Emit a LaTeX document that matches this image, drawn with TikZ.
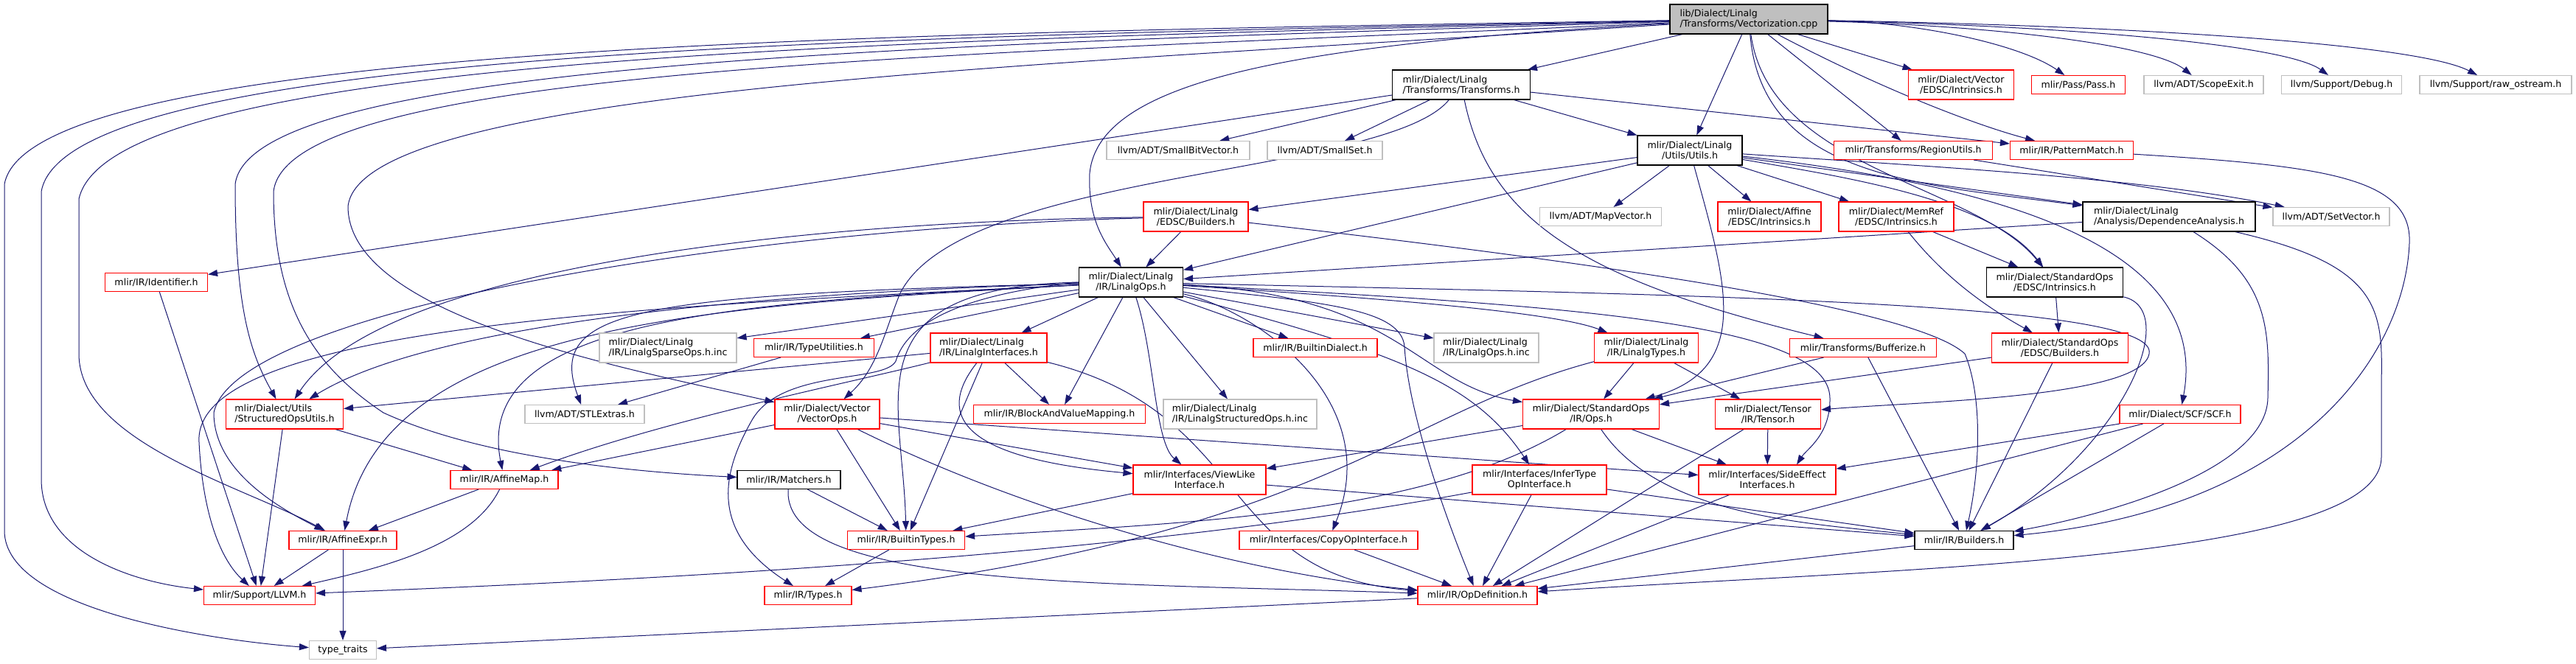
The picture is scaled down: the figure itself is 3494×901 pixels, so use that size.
\documentclass[tikz,border=0pt]{standalone}
\usepackage{fontspec}
\setmainfont{DejaVu Sans}
\usetikzlibrary{arrows.meta,backgrounds}

\definecolor{midnight}{HTML}{191970}
\definecolor{grey75}{HTML}{BFBFBF}
\definecolor{docred}{HTML}{FF0000}

\begin{document}
\begin{tikzpicture}[x=1pt, y=-1pt,
    hfile/.style={draw, rectangle, fill=white, line width=1.1pt, inner sep=2pt, align=center,
      minimum height=25pt, font=\fontsize{12.6}{14}\selectfont},
    hred/.style={hfile, draw=docred},
    hgrey/.style={hfile, draw=grey75},
    hblack/.style={hfile, draw=black},
    tall/.style={minimum height=40pt},
    lft/.style={align=left},
    dep/.style={draw=midnight, line width=1pt, -{Triangle[length=13pt, width=9pt]}}]
    \useasboundingbox (0,0) rectangle (3494,901);

    % the source file
    \node[hblack, tall, lft, fill=grey75, minimum width=214pt] (root) at (2372,26) {lib/Dialect/Linalg\\/Transforms/Vectorization.cpp};

    % row 2
    \node[hblack, tall, lft, minimum width=187pt] (transforms) at (1982,115) {mlir/Dialect/Linalg\\/Transforms/Transforms.h};
    \node[hred, tall, minimum width=143pt] (vecedsc) at (2660,115) {mlir/Dialect/Vector\\/EDSC/Intrinsics.h};
    \node[hred, minimum width=127pt] (pass) at (2819,115) {mlir/Pass/Pass.h};
    \node[hgrey, minimum width=162pt] (scopeexit) at (2989,115) {llvm/ADT/ScopeExit.h};
    \node[hgrey, minimum width=163pt] (debug) at (3176,115) {llvm/Support/Debug.h};
    \node[hgrey, minimum width=206pt] (rawostream) at (3385,115) {llvm/Support/raw\_ostream.h};

    % row 3
    \node[hgrey, minimum width=194pt] (smallbitvector) at (1598,204) {llvm/ADT/SmallBitVector.h};
    \node[hgrey, minimum width=156pt] (smallset) at (1797,204) {llvm/ADT/SmallSet.h};
    \node[hblack, tall, minimum width=142pt] (utils) at (2292,204) {mlir/Dialect/Linalg\\/Utils/Utils.h};
    \node[hred, minimum width=215pt] (regionutils) at (2595,204) {mlir/Transforms/RegionUtils.h};
    \node[hred, minimum width=167pt] (patternmatch) at (2810,204) {mlir/IR/PatternMatch.h};

    % row 4
    \node[hred, tall, minimum width=142pt] (linalgedsc) at (1622,294) {mlir/Dialect/Linalg\\/EDSC/Builders.h};
    \node[hgrey, minimum width=165pt] (mapvector) at (2171,294) {llvm/ADT/MapVector.h};
    \node[hred, tall, minimum width=140pt] (affineedsc) at (2400,294) {mlir/Dialect/Affine\\/EDSC/Intrinsics.h};
    \node[hred, tall, minimum width=156pt] (memrefedsc) at (2572,294) {mlir/Dialect/MemRef\\/EDSC/Intrinsics.h};
    \node[hblack, tall, lft, minimum width=234pt] (depanalysis) at (2942,294) {mlir/Dialect/Linalg\\/Analysis/DependenceAnalysis.h};
    \node[hgrey, minimum width=158pt] (setvector) at (3162,294) {llvm/ADT/SetVector.h};

    % row 5
    \node[hred, minimum width=139pt] (identifier) at (212,383) {mlir/IR/Identifier.h};
    \node[hblack, tall, minimum width=141pt] (linalgops) at (1534,383) {mlir/Dialect/Linalg\\/IR/LinalgOps.h};
    \node[hblack, tall, minimum width=185pt] (stdedscintr) at (2787,383) {mlir/Dialect/StandardOps\\/EDSC/Intrinsics.h};

    % row 6
    \node[hgrey, tall, lft, minimum width=186pt] (sparseinc) at (906,472) {mlir/Dialect/Linalg\\/IR/LinalgSparseOps.h.inc};
    \node[hred, minimum width=163pt] (typeutils) at (1104,472) {mlir/IR/TypeUtilities.h};
    \node[hred, tall, lft, minimum width=158pt] (linalginterfaces) at (1341,472) {mlir/Dialect/Linalg\\/IR/LinalgInterfaces.h};
    \node[hred, minimum width=168pt] (builtindialect) at (1784,472) {mlir/IR/BuiltinDialect.h};
    \node[hgrey, tall, lft, minimum width=142pt] (linalgopsinc) at (2016,472) {mlir/Dialect/Linalg\\/IR/LinalgOps.h.inc};
    \node[hred, tall, minimum width=141pt] (linalgtypes) at (2233,472) {mlir/Dialect/Linalg\\/IR/LinalgTypes.h};
    \node[hred, minimum width=199pt] (bufferize) at (2527,472) {mlir/Transforms/Bufferize.h};
    \node[hred, tall, minimum width=185pt] (stdedscbuilders) at (2794,472) {mlir/Dialect/StandardOps\\/EDSC/Builders.h};

    % row 7
    \node[hred, tall, lft, minimum width=159pt] (structopsutils) at (386,562) {mlir/Dialect/Utils\\/StructuredOpsUtils.h};
    \node[hgrey, minimum width=162pt] (stlextras) at (793,562) {llvm/ADT/STLExtras.h};
    \node[hred, tall, minimum width=142pt] (vectorops) at (1122,562) {mlir/Dialect/Vector\\/VectorOps.h};
    \node[hred, minimum width=233pt] (blockandvalue) at (1437,562) {mlir/IR/BlockAndValueMapping.h};
    \node[hgrey, tall, lft, minimum width=208pt] (structuredopsinc) at (1682,562) {mlir/Dialect/Linalg\\/IR/LinalgStructuredOps.h.inc};
    \node[hred, tall, minimum width=185pt] (stdops) at (2158,562) {mlir/Dialect/StandardOps\\/IR/Ops.h};
    \node[hred, tall, minimum width=143pt] (tensor) at (2398,562) {mlir/Dialect/Tensor\\/IR/Tensor.h};
    \node[hred, minimum width=164pt] (scf) at (2957,562) {mlir/Dialect/SCF/SCF.h};

    % row 8
    \node[hred, minimum width=146pt] (affinemap) at (684,651) {mlir/IR/AffineMap.h};
    \node[hblack, minimum width=140pt] (matchers) at (1070,651) {mlir/IR/Matchers.h};
    \node[hred, tall, minimum width=180pt] (viewlike) at (1627,651) {mlir/Interfaces/ViewLike\\Interface.h};
    \node[hred, tall, minimum width=182pt] (infertype) at (2088,651) {mlir/Interfaces/InferType\\OpInterface.h};
    \node[hred, tall, minimum width=186pt] (sideeffect) at (2397,651) {mlir/Interfaces/SideEffect\\Interfaces.h};

    % row 9
    \node[hred, minimum width=146pt] (affineexpr) at (465,733) {mlir/IR/AffineExpr.h};
    \node[hred, minimum width=159pt] (builtintypes) at (1229,733) {mlir/IR/BuiltinTypes.h};
    \node[hred, minimum width=242pt] (copyop) at (1802,733) {mlir/Interfaces/CopyOpInterface.h};
    \node[hblack, minimum width=134pt] (irbuilders) at (2664,733) {mlir/IR/Builders.h};

    % rows 10 and 11
    \node[hred, minimum width=151pt] (llvmh) at (352,808) {mlir/Support/LLVM.h};
    \node[hred, minimum width=118pt] (types) at (1096,808) {mlir/IR/Types.h};
    \node[hred, minimum width=162pt] (opdef) at (2004,808) {mlir/IR/OpDefinition.h};
    \node[hgrey, minimum width=91pt] (typetraits) at (465,882) {type\_traits};

    \begin{scope}[on background layer]
    \fill[white] (0,0) rectangle (3494,901);

    % includes of the source file
    \draw[dep] (root) -- (transforms);
    \draw[dep] (root) -- (utils);
    \draw[dep] (root) -- (regionutils);
    \draw[dep] (root) -- (vecedsc);
    \draw[dep] (root) .. controls (2550,120) and (2680,170) .. (patternmatch);
    \draw[dep] (root) .. controls (2600,30) and (2740,60) .. (pass);
    \draw[dep] (root) .. controls (2700,35) and (2920,60) .. (scopeexit);
    \draw[dep] (root) .. controls (2800,35) and (3100,60) .. (debug);
    \draw[dep] (root) .. controls (2900,35) and (3280,60) .. (rawostream);
    \draw[dep] (root) .. controls (2390,240) and (2600,250) .. (depanalysis);
    \draw[dep] (root) .. controls (2400,230) and (2680,250) .. (stdedscintr);
    \draw[dep] (root) .. controls (1750,60) and (1490,110) .. (1478,235) .. controls (1475,300) and (1500,330) .. (linalgops);
    % the long way round on the left
    \draw[dep] (root) .. controls (1200,45) and (40,60) .. (6,250) -- (6,720) .. controls (6,830) and (300,870) .. (typetraits);
    \draw[dep] (root) .. controls (1200,50) and (90,65) .. (56,260) -- (56,650) .. controls (56,750) and (180,790) .. (llvmh);
    \draw[dep] (root) .. controls (1200,55) and (150,75) .. (107,270) -- (107,480) .. controls (107,600) and (330,660) .. (affineexpr);
    \draw[dep] (root) .. controls (1300,60) and (340,80) .. (319,250) .. controls (319,420) and (340,480) .. (structopsutils);
    \draw[dep] (root) .. controls (1300,75) and (390,90) .. (371,260) .. controls (371,420) and (430,500) .. (520,560) .. controls (650,620) and (850,640) .. (matchers);
    \draw[dep] (root) .. controls (1400,90) and (490,120) .. (472,280) .. controls (472,430) and (850,500) .. (vectorops);

    % Transforms.h
    \draw[dep] (transforms) -- (smallbitvector);
    \draw[dep] (transforms) -- (smallset);
    \draw[dep] (transforms) -- (utils);
    \draw[dep] (transforms) -- (patternmatch);
    \draw[dep] (transforms) -- (identifier);
    \draw[dep] (transforms) .. controls (1880,240) and (1300,230) .. (1220,400) .. controls (1200,450) and (1190,500) .. (vectorops);
    \draw[dep] (transforms) .. controls (2020,300) and (2150,380) .. (bufferize);

    % Utils.h
    \draw[dep] (utils) -- (mapvector);
    \draw[dep] (utils) -- (affineedsc);
    \draw[dep] (utils) -- (memrefedsc);
    \draw[dep] (utils) -- (linalgedsc);
    \draw[dep] (utils) -- (linalgops);
    \draw[dep] (utils) -- (depanalysis);
    \draw[dep] (utils) .. controls (2600,225) and (2900,240) .. (setvector);
    \draw[dep] (utils) .. controls (2340,380) and (2380,500) .. (stdops);
    \draw[dep] (utils) .. controls (2500,240) and (2700,270) .. (stdedscintr);
    \draw[dep] (utils) .. controls (2700,250) and (3000,330) .. (scf);

    % smaller fan-outs
    \draw[dep] (regionutils) -- (setvector);
    \draw[dep] (patternmatch) .. controls (3150,225) and (3272,240) .. (3268,330) .. controls (3262,480) and (3120,690) .. (irbuilders);
    \draw[dep] (linalgedsc) -- (linalgops);
    \draw[dep] (linalgedsc) .. controls (1100,300) and (520,360) .. (structopsutils);
    \draw[dep] (linalgedsc) .. controls (1000,310) and (320,420) .. (290,560) .. controls (290,640) and (380,690) .. (affineexpr);
    \draw[dep] (linalgedsc) .. controls (2200,360) and (2600,420) .. (2665,480) .. controls (2690,540) and (2685,640) .. (irbuilders);
    \draw[dep] (memrefedsc) -- (stdedscintr);
    \draw[dep] (memrefedsc) .. controls (2640,380) and (2700,420) .. (stdedscbuilders);
    \draw[dep] (depanalysis) -- (linalgops);
    \draw[dep] (depanalysis) .. controls (3080,380) and (3078,450) .. (3076,540) .. controls (3074,640) and (2850,700) .. (irbuilders);
    \draw[dep] (depanalysis) .. controls (3230,360) and (3232,420) .. (3230,520) -- (3230,620) .. controls (3230,760) and (2600,770) .. (opdef);
    \draw[dep] (identifier) -- (llvmh);
    \draw[dep] (stdedscintr) -- (stdedscbuilders);
    \draw[dep] (stdedscintr) .. controls (2960,420) and (2880,610) .. (irbuilders);

    % LinalgOps.h
    \draw[dep] (linalgops) -- (sparseinc);
    \draw[dep] (linalgops) -- (typeutils);
    \draw[dep] (linalgops) -- (linalginterfaces);
    \draw[dep] (linalgops) -- (builtindialect);
    \draw[dep] (linalgops) -- (linalgopsinc);
    \draw[dep] (linalgops) .. controls (1800,400) and (2100,420) .. (linalgtypes);
    \draw[dep] (linalgops) -- (blockandvalue);
    \draw[dep] (linalgops) -- (structuredopsinc);
    \draw[dep] (linalgops) .. controls (1900,400) and (1920,520) .. (stdops);
    \draw[dep] (linalgops) .. controls (2300,400) and (2930,410) .. (2915,480) .. controls (2905,540) and (2600,545) .. (tensor);
    \draw[dep] (linalgops) .. controls (1100,395) and (600,430) .. (structopsutils);
    \draw[dep] (linalgops) .. controls (860,400) and (740,420) .. (stlextras);
    \draw[dep] (linalgops) .. controls (1000,410) and (640,430) .. (affinemap);
    \draw[dep] (linalgops) .. controls (950,415) and (520,440) .. (affineexpr);
    \draw[dep] (linalgops) .. controls (900,415) and (260,440) .. (270,600) .. controls (275,700) and (300,760) .. (llvmh);
    \draw[dep] (linalgops.west) .. controls (1150,390) and (1225,540) .. (builtintypes);
    \draw[dep] (linalgops.west) .. controls (1300,400) and (1230,440) .. (1215,490) .. controls (1200,520) and (1060,500) .. (1020,570) .. controls (980,640) and (960,720) .. (types);
    \draw[dep] (linalgops) .. controls (1566,480) and (1566,600) .. (viewlike);
    \draw[dep] (linalgops) .. controls (1700,420) and (1880,540) .. (copyop);
    \draw[dep] (linalgops) .. controls (1900,480) and (2000,520) .. (infertype);
    \draw[dep] (linalgops) .. controls (1800,410) and (1900,420) .. (1905,470) .. controls (1910,560) and (1960,700) .. (opdef);
    \draw[dep] (linalgops) .. controls (2150,415) and (2480,440) .. (2482,540) .. controls (2483,590) and (2450,610) .. ([xshift=40pt]sideeffect.north);

    % LinalgInterfaces.h and VectorOps.h
    \draw[dep] (linalginterfaces) -- (structopsutils);
    \draw[dep] (linalginterfaces) .. controls (1150,520) and (900,570) .. (affinemap);
    \draw[dep] (linalginterfaces) -- (blockandvalue);
    \draw[dep] (linalginterfaces) -- (builtintypes);
    \draw[dep] (linalginterfaces) .. controls (1240,600) and (1400,630) .. (viewlike);
    \draw[dep] (linalginterfaces) .. controls (1700,560) and (1650,780) .. (opdef);
    \draw[dep] (vectorops) -- (affinemap);
    \draw[dep] (vectorops) -- (builtintypes);
    \draw[dep] (vectorops) -- (viewlike);
    \draw[dep] (vectorops) -- (sideeffect);
    \draw[dep] (vectorops) .. controls (1400,700) and (1700,780) .. (opdef);

    % dialect headers
    \draw[dep] (linalgtypes) -- (stdops);
    \draw[dep] (linalgtypes) -- (tensor);
    \draw[dep] (linalgtypes) .. controls (1900,560) and (1800,720) .. (types);
    \draw[dep] (bufferize) -- (stdops);
    \draw[dep] (bufferize) -- (irbuilders);
    \draw[dep] (stdedscbuilders) -- (stdops);
    \draw[dep] (stdedscbuilders) -- (irbuilders);
    \draw[dep] (stdops) .. controls (1930,700) and (1600,710) .. (builtintypes);
    \draw[dep] (stdops) -- (viewlike);
    \draw[dep] (stdops) -- (sideeffect);
    \draw[dep] (stdops) .. controls (2250,700) and (2450,710) .. (irbuilders);
    \draw[dep] (tensor) -- (sideeffect);
    \draw[dep] (tensor) -- (opdef);
    \draw[dep] (scf) -- (sideeffect);
    \draw[dep] (scf) -- (irbuilders);
    \draw[dep] (scf) -- (opdef);

    % core IR headers
    \draw[dep] (structopsutils) -- (llvmh);
    \draw[dep] (structopsutils) -- (affinemap);
    \draw[dep] (typeutils) -- (stlextras);
    \draw[dep] (affinemap) -- (affineexpr);
    \draw[dep] (affinemap) .. controls (640,740) and (520,770) .. (llvmh);
    \draw[dep] (matchers) -- (builtintypes);
    \draw[dep] (matchers) .. controls (1060,800) and (1500,790) .. (opdef);
    \draw[dep] (viewlike) -- (builtintypes);
    \draw[dep] (viewlike) -- (irbuilders);
    \draw[dep] (infertype) .. controls (1500,760) and (800,790) .. (llvmh);
    \draw[dep] (infertype) -- (opdef);
    \draw[dep] (infertype) -- (irbuilders);
    \draw[dep] (sideeffect) -- (opdef);
    \draw[dep] (copyop) -- (opdef);
    \draw[dep] (irbuilders) -- (opdef);
    \draw[dep] (affineexpr) -- (llvmh);
    \draw[dep] (affineexpr) -- (typetraits);
    \draw[dep] (builtintypes) -- (types);
    \draw[dep] (opdef) -- (typetraits);
    \end{scope}
\end{tikzpicture}
\end{document}
